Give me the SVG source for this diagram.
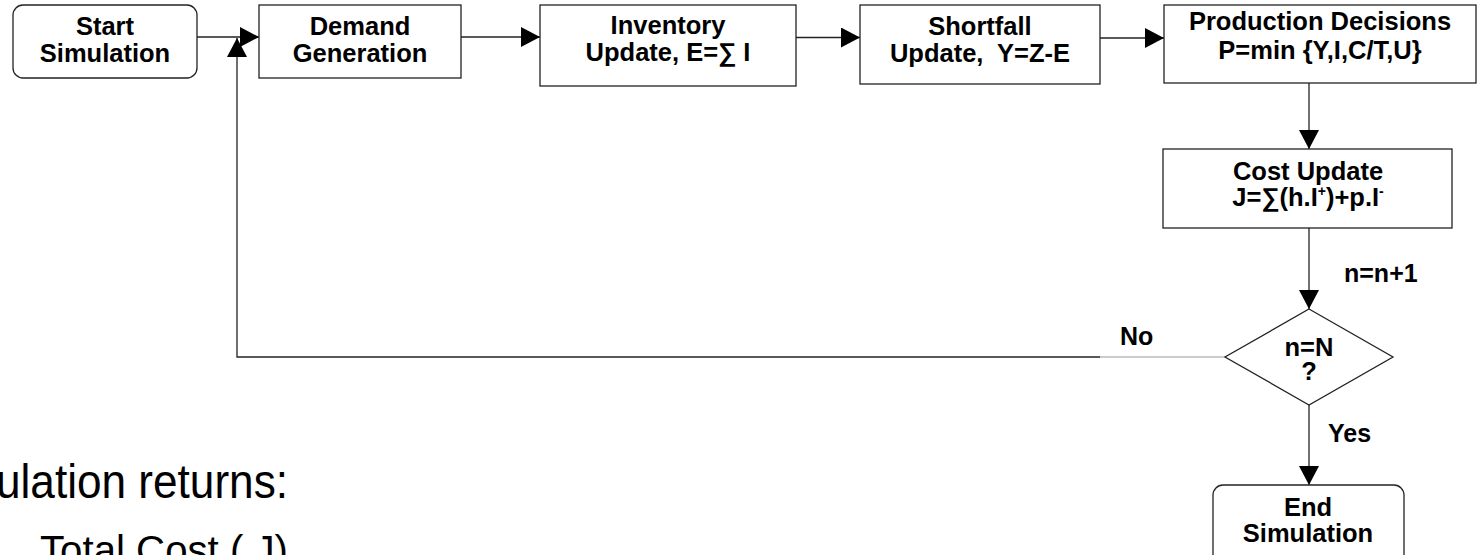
<svg xmlns="http://www.w3.org/2000/svg" width="1480" height="555" viewBox="0 0 1480 555">
<defs>
<style>
.box{fill:#fff;stroke:#222;stroke-width:1.3}
.t{font-family:"Liberation Sans",Arial,sans-serif;font-weight:bold;font-size:25.5px;fill:#000;text-anchor:middle;white-space:pre}
.lbl{font-family:"Liberation Sans",Arial,sans-serif;font-weight:bold;font-size:25px;fill:#000}
.big{font-family:"Liberation Sans",Arial,sans-serif;font-size:48px;fill:#000}
.mid{font-family:"Liberation Sans",Arial,sans-serif;font-size:40px;fill:#000;white-space:pre}
.c{fill:none;stroke:#222;stroke-width:1.3}
</style>
<marker id="ah" viewBox="0 0 19 20" refX="19" refY="10" markerWidth="19" markerHeight="20" orient="auto" markerUnits="userSpaceOnUse"><path d="M0,0 L19,10 L0,20 z" fill="#000"/></marker>
</defs>
<rect width="1480" height="555" fill="#fff"/>
<g id="connectors">
<path class="c" d="M197,37 H259" marker-end="url(#ah)"/>
<path class="c" d="M461,37 H540" marker-end="url(#ah)"/>
<path class="c" d="M796,37.5 H860" marker-end="url(#ah)"/>
<path class="c" d="M1100,38 H1164" marker-end="url(#ah)"/>
<path class="c" d="M1309,83 V149" marker-end="url(#ah)"/>
<path class="c" d="M1309,228 V309" marker-end="url(#ah)"/>
<path class="c" d="M1309,405 V485" marker-end="url(#ah)"/>
<path d="M1225,357 H1100" fill="none" stroke="#bbb" stroke-width="1.3"/>
<path class="c" d="M1100,357 H237 V38" marker-end="url(#ah)"/>
</g>
<g id="start">
<rect class="box" x="13" y="5" width="184" height="73" rx="10"/>
<text class="t" x="105" y="35">Start</text>
<text class="t" x="105" y="62">Simulation</text>
</g>
<g id="demand">
<rect class="box" x="259" y="5" width="202" height="73"/>
<text class="t" x="360" y="35">Demand</text>
<text class="t" x="360" y="62">Generation</text>
</g>
<g id="inventory">
<rect class="box" x="540" y="5" width="256" height="81"/>
<text class="t" x="668" y="34">Inventory</text>
<text class="t" x="668" y="61">Update, E=∑ I</text>
</g>
<g id="shortfall">
<rect class="box" x="860" y="5" width="240" height="79"/>
<text class="t" x="980" y="35">Shortfall</text>
<text class="t" x="980" y="62">Update,  Y=Z-E</text>
</g>
<g id="production">
<rect class="box" x="1164" y="5" width="312" height="78"/>
<text class="t" x="1320" y="30">Production Decisions</text>
<text class="t" x="1320" y="59">P=min {Y,I,C/T,U}</text>
</g>
<g id="cost">
<rect class="box" x="1163" y="149" width="289" height="79"/>
<text class="t" x="1308" y="180">Cost Update</text>
<text class="t" x="1308" y="206">J=∑(h.I<tspan font-size="14" dy="-10">+</tspan><tspan dy="10">)+p.I</tspan><tspan font-size="14" dy="-10">-</tspan></text>
</g>
<g id="decision">
<polygon class="box" points="1309,309 1393,357 1309,405 1225,357"/>
<text class="t" x="1309" y="356" font-size="24">n=N</text>
<text class="t" x="1309" y="380" font-size="24">?</text>
</g>
<g id="end">
<rect class="box" x="1213" y="485" width="191" height="80" rx="10"/>
<text class="t" x="1308" y="516">End</text>
<text class="t" x="1308" y="542">Simulation</text>
</g>
<g id="labels">
<text class="lbl" x="1344" y="282">n=n+1</text>
<text class="lbl" x="1120" y="345">No</text>
<text class="lbl" x="1328" y="442">Yes</text>
</g>
<g id="notes">
<text class="big" x="-80" y="498" textLength="368" lengthAdjust="spacingAndGlyphs">Simulation returns:</text>
<text class="mid" x="-12" y="568">–</text>
<text class="mid" x="40" y="564" textLength="248" lengthAdjust="spacingAndGlyphs">Total Cost ( J)</text>
</g>
</svg>
